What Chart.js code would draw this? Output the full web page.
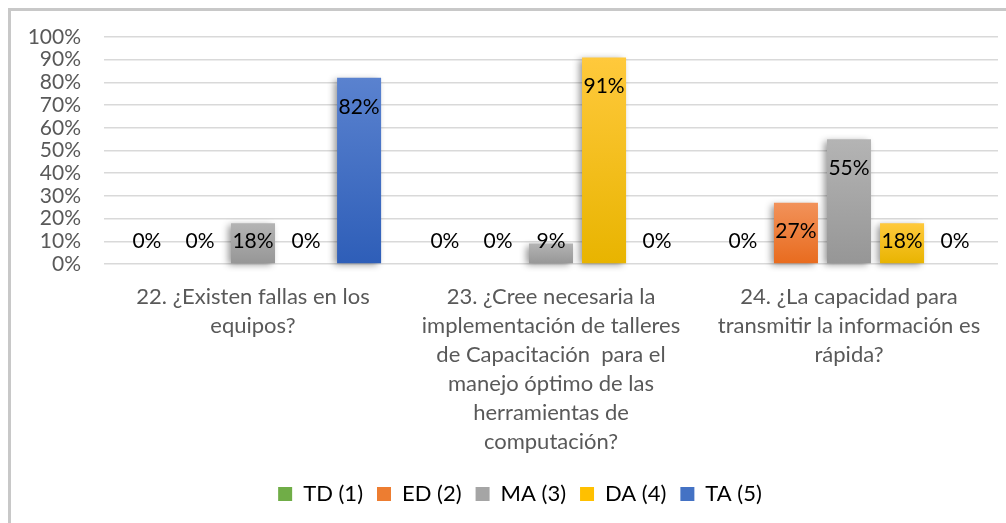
<!DOCTYPE html>
<html>
<head>
<meta charset="utf-8">
<script src="https://cdn.jsdelivr.net/npm/chart.js@4.4.0/dist/chart.umd.min.js"></script>
<style>
  html, body { margin: 0; padding: 0; background: #fff; }
  #wrap { position: relative; width: 1006px; height: 523px; overflow: hidden; }
  #frame { position: absolute; left: 8px; top: 8px; width: 1200px; height: 800px;
           border-left: 3px solid #c8c8c8; border-top: 3px solid #c8c8c8; }
  #c { position: absolute; left: 0; top: 0; }
</style>
</head>
<body>
<div id="wrap">
  <div id="frame"></div>
  <canvas id="c" width="1006" height="523"></canvas>
</div>
<script>
const categories = [
  ["22. ¿Existen fallas en los", "equipos?"],
  ["23. ¿Cree necesaria la", "implementación de talleres", "de Capacitación  para el", "manejo óptimo de las", "herramientas de", "computación?"],
  ["24. ¿La capacidad para", "transmitir la información es", "rápida?"]
];
const seriesNames = ["TD (1)", "ED (2)", "MA (3)", "DA (4)", "TA (5)"];
const tdValues = [0, 0, 0];
const edValues = [0, 0, 27];
const maValues = [18, 9, 55];
const daValues = [0, 91, 18];
const taValues = [82, 0, 0];
const yMax = 100;
const yStep = 10;

const FONT = "Lato, 'Open Sans', sans-serif";
const palette = [
  { solid: "#70ad47", top: "#84c05a", bottom: "#5f9e38" },
  { solid: "#ed7d31", top: "#f2925a", bottom: "#e86b1e" },
  { solid: "#a5a5a5", top: "#b4b4b4", bottom: "#969696" },
  { solid: "#ffc000", top: "#ffc93c", bottom: "#e8b400" },
  { solid: "#4472c4", top: "#5a82cf", bottom: "#2e5eb8" }
];
const seriesValues = [tdValues, edValues, maValues, daValues, taValues];

function gradFor(i) {
  return function (ctx) {
    const chart = ctx.chart;
    const ys = chart.scales && chart.scales.y;
    if (!chart.chartArea || !ys || ctx.parsed === undefined || ctx.parsed === null) return palette[i].solid;
    const v = ctx.raw;
    const top = ys.getPixelForValue(v);
    const base = ys.getPixelForValue(0);
    if (!isFinite(top) || !isFinite(base) || base - top < 1) return palette[i].solid;
    const g = chart.ctx.createLinearGradient(0, top, 0, base);
    g.addColorStop(0, palette[i].top);
    g.addColorStop(1, palette[i].bottom);
    return g;
  };
}

const datasets = seriesNames.map((name, i) => ({
  label: name,
  data: seriesValues[i],
  backgroundColor: gradFor(i),
  borderWidth: 0,
  clip: false,
  categoryPercentage: 0.89,
  barPercentage: 0.83
}));

const shadowPlugin = {
  id: "barShadow",
  beforeDatasetsDraw(chart) {
    const c = chart.ctx;
    c.save();
    c.shadowColor = "rgba(0,0,0,0.42)";
    c.shadowBlur = 7;
    c.shadowOffsetX = -3;
    c.shadowOffsetY = 2;
  },
  afterDatasetsDraw(chart) {
    chart.ctx.restore();
  }
};

const labelPlugin = {
  id: "valueLabels",
  afterDatasetsDraw(chart) {
    const c = chart.ctx;
    const base = chart.scales.y.getPixelForValue(0);
    c.save();
    c.font = "21px " + FONT;
    c.fillStyle = "#000";
    c.textAlign = "center";
    c.textBaseline = "middle";
    chart.data.datasets.forEach((ds, di) => {
      const meta = chart.getDatasetMeta(di);
      meta.data.forEach((el, idx) => {
        const v = ds.data[idx];
        const y = Math.min(el.y + 29, base - 23);
        c.fillText(v + "%", el.x, y);
      });
    });
    c.restore();
  }
};

const legendShift = {
  id: "legendShift",
  afterLayout(chart) {
    if (chart.legend) {
      chart.legend.left += 21;
      chart.legend.right += 21;
    }
  }
};

new Chart(document.getElementById("c"), {
  type: "bar",
  data: { labels: categories, datasets: datasets },
  options: {
    responsive: false,
    animation: false,
    layout: { padding: { left: 0, right: 8, top: 37, bottom: 8 } },
    scales: {
      x: {
        grid: { display: false, drawTicks: false },
        border: { display: false },
        ticks: {
          color: "#595959",
          font: { family: FONT, size: 22, lineHeight: 1.32 },
          padding: 18,
          maxRotation: 0,
          autoSkip: false
        },
        afterFit(scale) { scale.height = 205; }
      },
      y: {
        min: 0,
        max: yMax,
        grid: { color: "#d9d9d9", lineWidth: 1.5, drawTicks: false },
        border: { display: false },
        ticks: {
          stepSize: yStep,
          autoSkip: false,
          color: "#595959",
          font: { family: FONT, size: 21 },
          padding: 23,
          callback: (v) => v + "%"
        },
        afterFit(scale) { scale.width = 104; }
      }
    },
    plugins: {
      tooltip: { enabled: false },
      legend: {
        position: "bottom",
        labels: {
          color: "#595959",
          font: { family: FONT, size: 22 },
          boxWidth: 14,
          boxHeight: 14,
          padding: 14,
          generateLabels(chart) {
            return chart.data.datasets.map((ds, i) => ({
              text: ds.label,
              fillStyle: palette[i].solid,
              strokeStyle: palette[i].solid,
              lineWidth: 0,
              hidden: false,
              datasetIndex: i
            }));
          }
        }
      }
    }
  },
  plugins: [shadowPlugin, labelPlugin, legendShift]
});
</script>
</body>
</html>
